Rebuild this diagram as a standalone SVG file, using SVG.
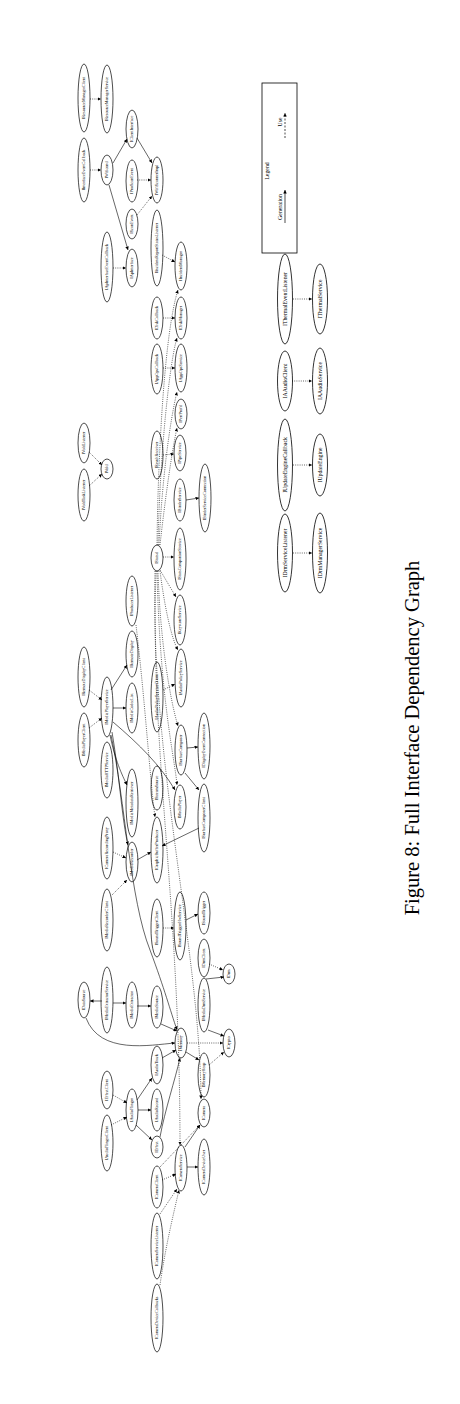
<svg xmlns="http://www.w3.org/2000/svg" width="460" height="1404" viewBox="0 0 460 1404">
<style>
.node ellipse{fill:none;stroke:#000;stroke-width:0.7}
.node text{font-family:"Liberation Serif","Times New Roman",serif;font-size:4.2px;text-anchor:middle;fill:#000}
.big ellipse{stroke-width:0.8}
.big text{font-size:5.8px}
.e path{fill:none;stroke:#000;stroke-width:0.6;marker-end:url(#ah)}
.e path.u{stroke-dasharray:1 1.2}
.cap{font-family:"Liberation Serif","Times New Roman",serif;font-size:20.5px;text-anchor:middle}
.lg{font-family:"Liberation Serif","Times New Roman",serif;font-size:5.8px;text-anchor:middle}
</style>
<defs>
<marker id="ah" viewBox="0 0 10 10" refX="10" refY="5" markerUnits="userSpaceOnUse" markerWidth="3.5" markerHeight="3.5" orient="auto"><path d="M0,0 L10,5 L0,10 z" fill="#000"/></marker>
</defs>
<rect width="460" height="1404" fill="#fff"/>

<g id="edges" class="e">
<path d="M113,163 L127,139"/>
<path d="M109,185 L128,250"/>
<path d="M137,138 L152,163"/>
<path d="M186,500 L199,498"/>
<path d="M111,690 L127,665"/>
<path d="M113,708 L126,708"/>
<path d="M110,735 C115,760 122,775 127,785"/>
<path d="M112,732 C120,780 122,820 128,845"/>
<path d="M113,722 C140,745 160,765 175,790"/>
<path d="M111,735 C125,800 130,900 150,950 C165,990 170,1010 177,1030"/>
<path d="M187,748 L198,747"/>
<path d="M185,773 L199,790"/>
<path d="M199,828 L162,846"/>
<path d="M137,860 L151,852"/>
<path d="M186,920 L198,914"/>
<path d="M102,1001 L90,1001"/>
<path d="M113,1003 L126,1003"/>
<path d="M137,1006 L151,1006"/>
<path d="M161,1024 L177,1031"/>
<path d="M86,1018 C100,1055 150,1045 175,1043"/>
<path d="M206,979 L224,977"/>
<path d="M208,1030 L224,1036"/>
<path d="M186,1052 L199,1060"/>
<path d="M162,1058 L176,1050"/>
<path d="M137,1100 L152,1078"/>
<path d="M138,1110 L151,1110"/>
<path d="M136,1125 L152,1140"/>
<path d="M160,1137 C165,1110 175,1080 180,1058"/>
<path d="M185,1147 L200,1125"/>
<path d="M187,1167 L198,1167"/>

<path class="u" d="M90,99 L101,99"/>
<path class="u" d="M90,170 L101,170"/>
<path class="u" d="M137,180 L151,180"/>
<path class="u" d="M137,215 L152,196"/>
<path class="u" d="M113,268 L126,268"/>
<path class="u" d="M162,255 L175,262"/>
<path class="u" d="M163,318 L175,318"/>
<path class="u" d="M163,368 L175,368"/>
<path class="u" d="M163,455 L174,454"/>
<path class="u" d="M89,452 L102,465"/>
<path class="u" d="M89,486 L102,474"/>
<path class="u" d="M163,557 L174,557"/>
<path class="u" d="M160,570 L176,597"/>
<path class="u" d="M136,625 C145,700 150,780 155,817"/>
<path class="u" d="M89,690 L102,700"/>
<path class="u" d="M89,728 L102,718"/>
<path class="u" d="M163,690 L175,684"/>
<path class="u" d="M112,895 L127,880"/>
<path class="u" d="M113,852 L126,858"/>
<path class="u" d="M163,928 L174,928"/>
<path class="u" d="M209,964 L223,970"/>
<path class="u" d="M187,1043 L223,1043"/>
<path class="u" d="M209,1065 L224,1052"/>
<path class="u" d="M113,1095 L127,1103"/>
<path class="u" d="M111,1125 L127,1117"/>
<path class="u" d="M162,1180 L176,1174"/>
<path class="u" d="M160,1167 L200,1125"/>
<path class="u" d="M160,1214 L177,1189"/>
<path class="u" d="M160,1285 C165,1250 172,1220 179,1190"/>
<path class="u" d="M157,545 C158,450 165,330 178,290"/>
<path class="u" d="M158,545 C160,450 170,360 177,338"/>
<path class="u" d="M159,545 C162,480 170,420 177,392"/>
<path class="u" d="M160,545 C165,500 172,450 177,428"/>
<path class="u" d="M160,571 C165,610 172,640 178,650"/>
<path class="u" d="M158,571 C160,640 170,700 178,726"/>
<path class="u" d="M157,571 C160,700 175,760 177,785"/>
<path class="u" d="M156,571 C150,750 180,900 180,1145"/>
<path class="u" d="M155,571 C150,760 200,950 201,1099"/>

<path class="u" d="M293,299 L312,299"/>
<path class="u" d="M292,381 L312,381"/>
<path class="u" d="M293,465 L312,465"/>
<path class="u" d="M293,553 L312,553"/>
</g>

<g id="n1" class="node" transform="translate(84,98)"><ellipse rx="6" ry="34"/><text transform="rotate(-90)" dy="0.35em">IResourceManagerClient</text></g>
<g id="n2" class="node" transform="translate(107,99)"><ellipse rx="6" ry="34"/><text transform="rotate(-90)" dy="0.35em">IResourceManagerService</text></g>
<g id="n3" class="node" transform="translate(84,170)"><ellipse rx="6" ry="32"/><text transform="rotate(-90)" dy="0.35em">IInterfaceEventCallback</text></g>
<g id="n4" class="node" transform="translate(107,170)"><ellipse rx="6" ry="15"/><text transform="rotate(-90)" dy="0.35em">IWificond</text></g>
<g id="n5" class="node" transform="translate(132,129)"><ellipse rx="6" ry="19"/><text transform="rotate(-90)" dy="0.35em">IClientInterface</text></g>
<g id="n6" class="node" transform="translate(132,181)"><ellipse rx="6" ry="21"/><text transform="rotate(-90)" dy="0.35em">IPnoScanEvent</text></g>
<g id="n7" class="node" transform="translate(157,180)"><ellipse rx="6" ry="23"/><text transform="rotate(-90)" dy="0.35em">IWifiScannerImpl</text></g>
<g id="n8" class="node" transform="translate(132,224)"><ellipse rx="6" ry="15"/><text transform="rotate(-90)" dy="0.35em">IScanEvent</text></g>
<g id="n9" class="node" transform="translate(107,267)"><ellipse rx="6" ry="35"/><text transform="rotate(-90)" dy="0.35em">IApInterfaceEventCallback</text></g>
<g id="n10" class="node" transform="translate(132,268)"><ellipse rx="6" ry="19"/><text transform="rotate(-90)" dy="0.35em">IApInterface</text></g>
<g id="n11" class="node" transform="translate(157,248)"><ellipse rx="6" ry="38"/><text transform="rotate(-90)" dy="0.35em">IIncidentReportStatusListener</text></g>
<g id="n12" class="node" transform="translate(181,266)"><ellipse rx="6" ry="24"/><text transform="rotate(-90)" dy="0.35em">IIncidentManager</text></g>
<g id="n13" class="node" transform="translate(157,318)"><ellipse rx="6" ry="21"/><text transform="rotate(-90)" dy="0.35em">IDiskCallback</text></g>
<g id="n14" class="node" transform="translate(181,318)"><ellipse rx="6" ry="21"/><text transform="rotate(-90)" dy="0.35em">IDiskManager</text></g>
<g id="n15" class="node" transform="translate(157,369)"><ellipse rx="6" ry="25"/><text transform="rotate(-90)" dy="0.35em">IAppOpsCallback</text></g>
<g id="n16" class="node" transform="translate(181,368)"><ellipse rx="6" ry="24"/><text transform="rotate(-90)" dy="0.35em">IAppOpsService</text></g>
<g id="n17" class="node" transform="translate(181,414)"><ellipse rx="6" ry="15"/><text transform="rotate(-90)" dy="0.35em">IPerfProfd</text></g>
<g id="n18" class="node" transform="translate(157,455)"><ellipse rx="6" ry="24"/><text transform="rotate(-90)" dy="0.35em">IResultReceiver</text></g>
<g id="n19" class="node" transform="translate(180,453)"><ellipse rx="6" ry="18"/><text transform="rotate(-90)" dy="0.35em">IPipeService</text></g>
<g id="n20" class="node" transform="translate(180,500)"><ellipse rx="6" ry="21"/><text transform="rotate(-90)" dy="0.35em">IBinderService</text></g>
<g id="n21" class="node" transform="translate(205,498)"><ellipse rx="6" ry="34"/><text transform="rotate(-90)" dy="0.35em">IBinderServiceConnection</text></g>
<g id="n22" class="node" transform="translate(84,443)"><ellipse rx="6" ry="20"/><text transform="rotate(-90)" dy="0.35em">IVoldListener</text></g>
<g id="n23" class="node" transform="translate(84,495)"><ellipse rx="6" ry="26"/><text transform="rotate(-90)" dy="0.35em">IVoldTaskListener</text></g>
<g id="n24" class="node" transform="translate(107,469)"><ellipse rx="6" ry="10"/><text transform="rotate(-90)" dy="0.35em">IVold</text></g>
<g id="n25" class="node" transform="translate(157,558)"><ellipse rx="6" ry="13"/><text transform="rotate(-90)" dy="0.35em">IStatsd</text></g>
<g id="n26" class="node" transform="translate(180,559)"><ellipse rx="6" ry="31"/><text transform="rotate(-90)" dy="0.35em">IStatsCompanionService</text></g>
<g id="n27" class="node" transform="translate(132,601)"><ellipse rx="6" ry="25"/><text transform="rotate(-90)" dy="0.35em">IProducerListener</text></g>
<g id="n28" class="node" transform="translate(180,620)"><ellipse rx="6" ry="25"/><text transform="rotate(-90)" dy="0.35em">IKeystoreService</text></g>
<g id="n29" class="node" transform="translate(132,654)"><ellipse rx="6" ry="23"/><text transform="rotate(-90)" dy="0.35em">IRemoteDisplay</text></g>
<g id="n30" class="node" transform="translate(84,677)"><ellipse rx="6" ry="30"/><text transform="rotate(-90)" dy="0.35em">IRemoteDisplayClient</text></g>
<g id="n31" class="node" transform="translate(84,740)"><ellipse rx="6" ry="27"/><text transform="rotate(-90)" dy="0.35em">IMediaPlayerClient</text></g>
<g id="n32" class="node" transform="translate(107,707)"><ellipse rx="6" ry="30"/><text transform="rotate(-90)" dy="0.35em">IMediaPlayerService</text></g>
<g id="n33" class="node" transform="translate(132,708)"><ellipse rx="6" ry="25"/><text transform="rotate(-90)" dy="0.35em">IMediaCodecList</text></g>
<g id="n34" class="node" transform="translate(157,697)"><ellipse rx="6" ry="35"/><text transform="rotate(-90)" dy="0.35em">IAudioPolicyServiceClient</text></g>
<g id="n35" class="node" transform="translate(181,678)"><ellipse rx="6" ry="29"/><text transform="rotate(-90)" dy="0.35em">IAudioPolicyService</text></g>
<g id="n36" class="node" transform="translate(181,750)"><ellipse rx="6" ry="25"/><text transform="rotate(-90)" dy="0.35em">ISurfaceComposer</text></g>
<g id="n37" class="node" transform="translate(204,746)"><ellipse rx="6" ry="33"/><text transform="rotate(-90)" dy="0.35em">IDisplayEventConnection</text></g>
<g id="n38" class="node" transform="translate(107,770)"><ellipse rx="6" ry="28"/><text transform="rotate(-90)" dy="0.35em">IMediaHTTPService</text></g>
<g id="n39" class="node" transform="translate(132,803)"><ellipse rx="6" ry="34"/><text transform="rotate(-90)" dy="0.35em">IMediaMetadataRetriever</text></g>
<g id="n40" class="node" transform="translate(157,788)"><ellipse rx="6" ry="22"/><text transform="rotate(-90)" dy="0.35em">IStreamSource</text></g>
<g id="n41" class="node" transform="translate(180,807)"><ellipse rx="6" ry="22"/><text transform="rotate(-90)" dy="0.35em">IMediaPlayer</text></g>
<g id="n42" class="node" transform="translate(204,818)"><ellipse rx="6" ry="34"/><text transform="rotate(-90)" dy="0.35em">ISurfaceComposerClient</text></g>
<g id="n43" class="node" transform="translate(107,848)"><ellipse rx="6" ry="31"/><text transform="rotate(-90)" dy="0.35em">ICameraRecordingProxy</text></g>
<g id="n44" class="node" transform="translate(132,862)"><ellipse rx="6" ry="20"/><text transform="rotate(-90)" dy="0.35em">IMediaRecorder</text></g>
<g id="n45" class="node" transform="translate(157,850)"><ellipse rx="6" ry="33"/><text transform="rotate(-90)" dy="0.35em">IGraphicBufferProducer</text></g>
<g id="n46" class="node" transform="translate(107,920)"><ellipse rx="6" ry="31"/><text transform="rotate(-90)" dy="0.35em">IMediaRecorderClient</text></g>
<g id="n47" class="node" transform="translate(157,928)"><ellipse rx="6" ry="29"/><text transform="rotate(-90)" dy="0.35em">ISoundTriggerClient</text></g>
<g id="n48" class="node" transform="translate(180,926)"><ellipse rx="6" ry="34"/><text transform="rotate(-90)" dy="0.35em">ISoundTriggerHwService</text></g>
<g id="n49" class="node" transform="translate(204,913)"><ellipse rx="6" ry="21"/><text transform="rotate(-90)" dy="0.35em">ISoundTrigger</text></g>
<g id="n50" class="node" transform="translate(204,958)"><ellipse rx="6" ry="19"/><text transform="rotate(-90)" dy="0.35em">IDrmClient</text></g>
<g id="n51" class="node" transform="translate(229,974)"><ellipse rx="6" ry="10"/><text transform="rotate(-90)" dy="0.35em">IDrm</text></g>
<g id="n52" class="node" transform="translate(84,1000)"><ellipse rx="6" ry="18"/><text transform="rotate(-90)" dy="0.35em">IDataSource</text></g>
<g id="n53" class="node" transform="translate(107,1000)"><ellipse rx="6" ry="33"/><text transform="rotate(-90)" dy="0.35em">IMediaExtractorService</text></g>
<g id="n54" class="node" transform="translate(132,1005)"><ellipse rx="6" ry="23"/><text transform="rotate(-90)" dy="0.35em">IMediaExtractor</text></g>
<g id="n55" class="node" transform="translate(157,1007)"><ellipse rx="6" ry="21"/><text transform="rotate(-90)" dy="0.35em">IMediaSource</text></g>
<g id="n56" class="node" transform="translate(181,1043)"><ellipse rx="6" ry="15"/><text transform="rotate(-90)" dy="0.35em">IMemory</text></g>
<g id="n57" class="node" transform="translate(204,1005)"><ellipse rx="6" ry="27"/><text transform="rotate(-90)" dy="0.35em">IMediaDrmService</text></g>
<g id="n58" class="node" transform="translate(229,1043)"><ellipse rx="6" ry="14"/><text transform="rotate(-90)" dy="0.35em">ICrypto</text></g>
<g id="n59" class="node" transform="translate(204,1075)"><ellipse rx="6" ry="22"/><text transform="rotate(-90)" dy="0.35em">IMemoryHeap</text></g>
<g id="n60" class="node" transform="translate(157,1065)"><ellipse rx="6" ry="19"/><text transform="rotate(-90)" dy="0.35em">IAudioTrack</text></g>
<g id="n61" class="node" transform="translate(107,1090)"><ellipse rx="6" ry="19"/><text transform="rotate(-90)" dy="0.35em">IEffectClient</text></g>
<g id="n62" class="node" transform="translate(132,1110)"><ellipse rx="6" ry="21"/><text transform="rotate(-90)" dy="0.35em">IAudioFlinger</text></g>
<g id="n63" class="node" transform="translate(157,1110)"><ellipse rx="6" ry="21"/><text transform="rotate(-90)" dy="0.35em">IAudioRecord</text></g>
<g id="n64" class="node" transform="translate(204,1113)"><ellipse rx="6" ry="14"/><text transform="rotate(-90)" dy="0.35em">ICamera</text></g>
<g id="n65" class="node" transform="translate(107,1143)"><ellipse rx="6" ry="28"/><text transform="rotate(-90)" dy="0.35em">IAudioFlingerClient</text></g>
<g id="n66" class="node" transform="translate(157,1147)"><ellipse rx="6" ry="11"/><text transform="rotate(-90)" dy="0.35em">IEffect</text></g>
<g id="n67" class="node" transform="translate(181,1168)"><ellipse rx="6" ry="23"/><text transform="rotate(-90)" dy="0.35em">ICameraService</text></g>
<g id="n68" class="node" transform="translate(204,1167)"><ellipse rx="6" ry="28"/><text transform="rotate(-90)" dy="0.35em">ICameraDeviceUser</text></g>
<g id="n69" class="node" transform="translate(157,1187)"><ellipse rx="6" ry="21"/><text transform="rotate(-90)" dy="0.35em">ICameraClient</text></g>
<g id="n70" class="node" transform="translate(157,1246)"><ellipse rx="6" ry="33"/><text transform="rotate(-90)" dy="0.35em">ICameraServiceListener</text></g>
<g id="n71" class="node" transform="translate(157,1318)"><ellipse rx="6" ry="34"/><text transform="rotate(-90)" dy="0.35em">ICameraDeviceCallbacks</text></g>

<g id="n72" class="node big" transform="translate(285,299)"><ellipse rx="7.5" ry="45"/><text transform="rotate(-90)" dy="0.35em">IThermalEventListener</text></g>
<g id="n73" class="node big" transform="translate(320,299)"><ellipse rx="7.5" ry="35"/><text transform="rotate(-90)" dy="0.35em">IThermalService</text></g>
<g id="n74" class="node big" transform="translate(285,381)"><ellipse rx="7.5" ry="30"/><text transform="rotate(-90)" dy="0.35em">IAAudioClient</text></g>
<g id="n75" class="node big" transform="translate(320,381)"><ellipse rx="7.5" ry="33"/><text transform="rotate(-90)" dy="0.35em">IAAudioService</text></g>
<g id="n76" class="node big" transform="translate(285,465)"><ellipse rx="7.5" ry="46"/><text transform="rotate(-90)" dy="0.35em">IUpdateEngineCallback</text></g>
<g id="n77" class="node big" transform="translate(320,465)"><ellipse rx="7.5" ry="31"/><text transform="rotate(-90)" dy="0.35em">IUpdateEngine</text></g>
<g id="n78" class="node big" transform="translate(285,553)"><ellipse rx="7.5" ry="39"/><text transform="rotate(-90)" dy="0.35em">IDrmServiceListener</text></g>
<g id="n79" class="node big" transform="translate(320,553)"><ellipse rx="7.5" ry="40"/><text transform="rotate(-90)" dy="0.35em">IDrmManagerService</text></g>

<g id="legend">
<rect x="262" y="83" width="35" height="170" fill="none" stroke="#000" stroke-width="0.8"/>
<text class="lg" transform="translate(269,171) rotate(-90)">Legend</text>
<text class="lg" transform="translate(282,122) rotate(-90)">Use</text>
<path d="M285,138 L285,113" fill="none" stroke="#000" stroke-width="0.7" stroke-dasharray="2 1.5" marker-end="url(#ah)"/>
<text class="lg" transform="translate(282,207) rotate(-90)">Generation</text>
<path d="M285,223 L285,190" fill="none" stroke="#000" stroke-width="0.7" marker-end="url(#ah)"/>
</g>

<text class="cap" transform="translate(419,738) rotate(-90)">Figure 8: Full Interface Dependency Graph</text>
</svg>
